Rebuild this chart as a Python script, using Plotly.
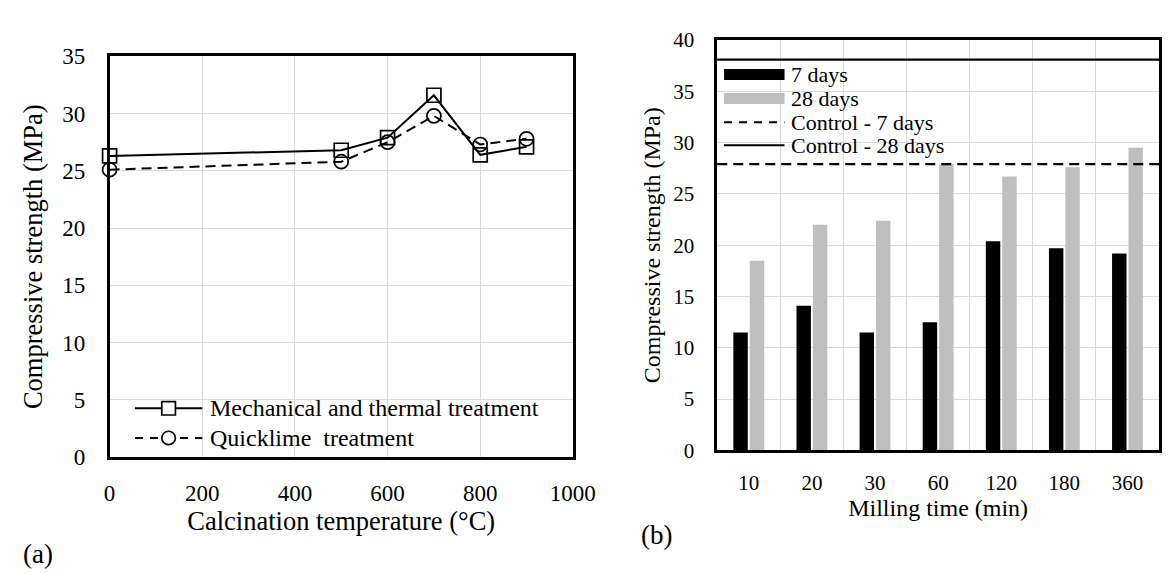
import plotly.graph_objects as go

# ---------------- data ----------------
calc_temp = [0, 500, 600, 700, 800, 900]
mech_thermal = [26.3, 26.8, 27.9, 31.6, 26.4, 27.1]
quicklime = [25.1, 25.8, 27.5, 29.8, 27.3, 27.8]

milling_time = ["10", "20", "30", "60", "120", "180", "360"]
days7 = [11.5, 14.1, 11.5, 12.5, 20.4, 19.7, 19.2]
days28 = [18.5, 22.0, 22.4, 27.9, 26.7, 27.6, 29.5]
control_7 = 27.9
control_28 = 38.1

legend_a = ["Mechanical and thermal treatment", "Quicklime  treatment"]
legend_b = ["7 days", "28 days", "Control - 7 days", "Control - 28 days"]

FONT = "Liberation Serif, Times New Roman, serif"
GRID = "#d9d9d9"
GREY = "#bfbfbf"
W, H = 1176, 574


def px_x(p):
    return p / W


def px_y(p):
    return 1 - p / H


fig = go.Figure()

# ---------------- panel (a) ----------------
fig.add_trace(go.Scatter(
    x=calc_temp, y=mech_thermal, name=legend_a[0],
    mode="lines+markers", xaxis="x", yaxis="y",
    line=dict(color="black", width=2),
    marker=dict(symbol="square-open", size=14, color="black", line=dict(width=1.7)),
    cliponaxis=False, showlegend=False,
))
fig.add_trace(go.Scatter(
    x=calc_temp, y=quicklime, name=legend_a[1],
    mode="lines+markers", xaxis="x", yaxis="y",
    line=dict(color="black", width=2, dash="10px,6px"),
    marker=dict(symbol="circle-open", size=14, color="black", line=dict(width=1.7)),
    cliponaxis=False, showlegend=False,
))

# ---------------- panel (b) ----------------
fig.add_trace(go.Bar(
    x=milling_time, y=days7, name=legend_b[0], xaxis="x2", yaxis="y2",
    marker=dict(color="black", line=dict(width=0)), showlegend=False,
))
fig.add_trace(go.Bar(
    x=milling_time, y=days28, name=legend_b[1], xaxis="x2", yaxis="y2",
    marker=dict(color=GREY, line=dict(width=0)), showlegend=False,
))
fig.add_shape(type="line", xref="x2 domain", yref="y2", x0=0, x1=1,
              y0=control_7, y1=control_7,
              line=dict(color="black", width=2.2, dash="10px,6px"))
fig.add_shape(type="line", xref="x2 domain", yref="y2", x0=0, x1=1,
              y0=control_28, y1=control_28,
              line=dict(color="black", width=2.2))

annotations = []

# ---------------- legend (a), drawn in paper space ----------------
la_rows = [406, 437]
for i, (name, yy) in enumerate(zip(legend_a, la_rows)):
    fig.add_shape(type="line", xref="paper", yref="paper",
                  x0=px_x(124), x1=px_x(193), y0=px_y(yy), y1=px_y(yy),
                  line=dict(color="black", width=2,
                            dash="solid" if i == 0 else "8px,7px"))
    fig.add_shape(type="rect" if i == 0 else "circle", xref="paper", yref="paper",
                  x0=px_x(151.5), x1=px_x(165.5), y0=px_y(yy - 7), y1=px_y(yy + 7),
                  line=dict(color="black", width=1.7), fillcolor="white")
    annotations.append(dict(text=name, x=px_x(199), y=px_y(yy), xref="paper", yref="paper",
                            xanchor="left", yanchor="middle", showarrow=False,
                            font=dict(family=FONT, size=24, color="black")))

# ---------------- legend (b), drawn in paper space ----------------
lb_rows = [57, 82, 107, 131]
for i, (name, yy) in enumerate(zip(legend_b, lb_rows)):
    if i < 2:
        fig.add_shape(type="rect", xref="paper", yref="paper",
                      x0=px_x(728), x1=px_x(790), y0=px_y(yy - 5.8), y1=px_y(yy + 5.8),
                      line=dict(width=0), fillcolor="black" if i == 0 else GREY)
    else:
        fig.add_shape(type="line", xref="paper", yref="paper",
                      x0=px_x(728), x1=px_x(790), y0=px_y(yy), y1=px_y(yy),
                      line=dict(color="black", width=2,
                                dash="8px,7px" if i == 2 else "solid"))
    annotations.append(dict(text=name, x=px_x(795), y=px_y(yy), xref="paper", yref="paper",
                            xanchor="left", yanchor="middle", showarrow=False,
                            font=dict(family=FONT, size=22, color="black")))

annotations += [
    dict(text="(a)", x=px_x(7), y=px_y(558), xref="paper", yref="paper",
         xanchor="left", yanchor="middle", showarrow=False,
         font=dict(family=FONT, size=27, color="black")),
    dict(text="(b)", x=px_x(641), y=px_y(538), xref="paper", yref="paper",
         xanchor="left", yanchor="middle", showarrow=False,
         font=dict(family=FONT, size=27, color="black")),
]


def ax(size, **kw):
    d = dict(showline=True, linecolor="black", linewidth=2.5, mirror=True,
             showgrid=True, gridcolor=GRID, gridwidth=1.4, zeroline=False,
             ticks="", tickfont=dict(family=FONT, size=size, color="black"))
    d.update(kw)
    return d


fig.update_layout(
    width=W, height=H,
    margin=dict(l=0, r=0, t=0, b=0),
    paper_bgcolor="white", plot_bgcolor="white",
    font=dict(family=FONT, color="black", size=22),
    showlegend=False,
    barmode="group", bargap=0.48, bargroupgap=0.12,
    xaxis=ax(23, domain=[px_x(98), px_x(573)], range=[0, 1000], dtick=200,
             anchor="y", ticklabelstandoff=14,
             title=dict(text="Calcination temperature (°C)",
                        font=dict(family=FONT, size=26.5), standoff=4)),
    yaxis=ax(23, domain=[px_y(457), px_y(38)], range=[0, 35], dtick=5,
             anchor="x", ticklabelstandoff=17,
             title=dict(text="Compressive strength (MPa)",
                        font=dict(family=FONT, size=26.5), standoff=12)),
    xaxis2=ax(21, domain=[px_x(721), px_x(1174)], type="category",
              tickson="boundaries", anchor="y2", ticklabelstandoff=12,
              title=dict(text="Milling time (min)",
                         font=dict(family=FONT, size=24), standoff=0)),
    yaxis2=ax(21, domain=[px_y(450), px_y(21)], range=[0, 40], dtick=5,
              anchor="x2", ticklabelstandoff=16,
              title=dict(text="Compressive strength (MPa)",
                         font=dict(family=FONT, size=24), standoff=6)),
    annotations=annotations,
)

fig.write_html("out.html")
